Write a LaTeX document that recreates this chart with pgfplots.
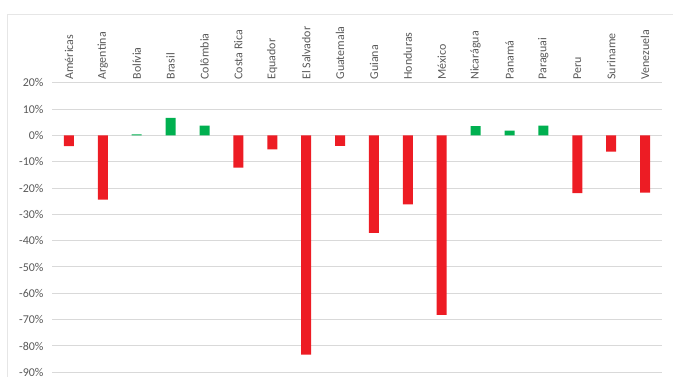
\documentclass[border=0pt]{standalone}
\usepackage{pgfplots}
\pgfplotsset{compat=1.18}
\usepackage{fontspec}
\setmainfont{Carlito}
\definecolor{barneg}{HTML}{ED1C24}
\definecolor{barpos}{HTML}{00B050}
\definecolor{gridc}{HTML}{D9D9D9}
\definecolor{labc}{HTML}{595959}
\definecolor{framec}{HTML}{E6E6E6}

% variação por país (%)
\pgfplotstableread{
x val
0 -4.1
1 -24.4
2 0.4
3 6.6
4 3.7
5 -12.3
6 -5.3
7 -83.3
8 -4.0
9 -37.0
10 -26.2
11 -68.2
12 3.5
13 1.8
14 3.7
15 -21.9
16 -6.2
17 -21.8
}\datatable

\begin{document}
\begin{tikzpicture}[x=1bp,y=1bp]
\path[use as bounding box] (0,0) rectangle (673,377);
\draw[framec, line width=0.8bp] (7,0) -- (7,363) -- (673,363);
\begin{axis}[
  at={(52bp,4.7bp)}, anchor=south west,
  scale only axis, width=610bp, height=289.6bp,
  ymin=-90, ymax=20, ytick={-90,-80,...,20},
  xmin=-0.5, xmax=17.5,
  xtick={0,...,17},
  xticklabels={Américas,Argentina,Bolívia,Brasil,Colômbia,Costa Rica,Equador,El Salvador,Guatemala,Guiana,Honduras,México,Nicarágua,Panamá,Paraguai,Peru,Suriname,Venezuela},
  xticklabel pos=upper,
  x tick label style={rotate=90, anchor=west, font=\fontsize{12}{14}\selectfont, text=labc, inner sep=1bp},
  xticklabel shift=2bp,
  yticklabel={\pgfmathprintnumber{\tick}\%},
  y tick label style={font=\fontsize{12}{14}\selectfont, text=labc},
  yticklabel shift=5bp,
  /pgf/number format/assume math mode=true,
  axis line style={draw=none},
  major tick length=0pt,
  ymajorgrids, grid style={gridc, line width=1bp},
  bar width=10bp,
  ybar, bar shift=0pt,
]
\addplot[ybar, draw=none, fill=barneg] table[x=x, y=val, restrict y to domain=-100:0] {\datatable};
\addplot[ybar, draw=none, fill=barpos] table[x=x, y=val, restrict y to domain=0:100] {\datatable};
\end{axis}
\end{tikzpicture}
\end{document}
